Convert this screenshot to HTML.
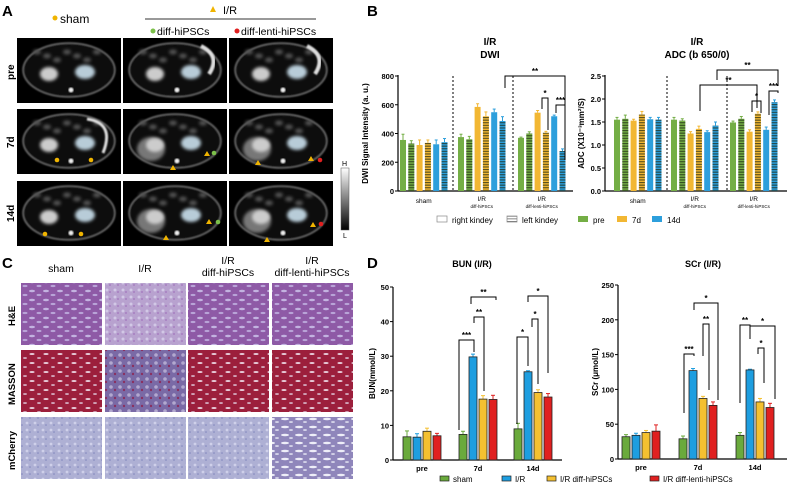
<!DOCTYPE html>
<html><head><meta charset="utf-8"><style>
body{margin:0;background:#fff;width:790px;height:490px;overflow:hidden;font-family:"Liberation Sans",sans-serif}
svg{position:absolute;left:0;top:0}
</style></head><body>
<svg id="fig" width="790" height="490" viewBox="0 0 790 490" xmlns="http://www.w3.org/2000/svg" font-family="Liberation Sans, sans-serif">
<defs>
<filter id="bl" x="-50%" y="-50%" width="200%" height="200%"><feGaussianBlur stdDeviation="1.6"/></filter>
<filter id="bl2"><feGaussianBlur stdDeviation="0.8"/></filter>
<pattern id="stripe" width="4" height="2.6" patternUnits="userSpaceOnUse"><rect width="4" height="1.1" fill="rgba(30,40,20,0.75)"/></pattern>
<pattern id="stripeLeg" width="4" height="2.6" patternUnits="userSpaceOnUse"><rect width="4" height="0.9" fill="#777"/></pattern>
<pattern id="he" width="14" height="9" patternUnits="userSpaceOnUse"><rect width="14" height="9" fill="#8e5aa6"/><ellipse cx="4" cy="3" rx="3" ry="1.3" fill="#c3b3e0"/><ellipse cx="11" cy="7" rx="2.5" ry="1.1" fill="#b9a4d8"/></pattern>
<pattern id="heIR" width="8" height="7" patternUnits="userSpaceOnUse"><rect width="8" height="7" fill="#b8a2cf"/><circle cx="3" cy="3" r="1.5" fill="#d2c8e6"/><circle cx="6" cy="5" r="1" fill="#a77fc0"/></pattern>
<pattern id="ms" width="14" height="9" patternUnits="userSpaceOnUse"><rect width="14" height="9" fill="#9c1f3c"/><ellipse cx="4" cy="3" rx="2.6" ry="1" fill="#e6c9d6"/><ellipse cx="11" cy="7" rx="2" ry="0.9" fill="#d8b5c8"/></pattern>
<pattern id="msIR" width="9" height="8" patternUnits="userSpaceOnUse"><rect width="9" height="8" fill="#7a6aa6"/><circle cx="3" cy="3" r="1.8" fill="#b2a8cf"/><circle cx="7" cy="6" r="1.2" fill="#8a3060"/></pattern>
<pattern id="mc" width="8" height="7" patternUnits="userSpaceOnUse"><rect width="8" height="7" fill="#aeb0d4"/><circle cx="3" cy="3" r="1.4" fill="#cfd0ea"/><circle cx="6" cy="5" r="0.8" fill="#8186bd"/></pattern>
<pattern id="mcL" width="14" height="8" patternUnits="userSpaceOnUse"><rect width="14" height="8" fill="#8f86bb"/><ellipse cx="5" cy="3" rx="4" ry="1.2" fill="#eeeef8"/><ellipse cx="11" cy="6" rx="2" ry="0.9" fill="#dcdcee"/></pattern>
<linearGradient id="cbar" x1="0" y1="0" x2="0" y2="1"><stop offset="0" stop-color="#fff"/><stop offset="1" stop-color="#000"/></linearGradient>
</defs>

<!-- Panel A -->
<text x="2" y="16" font-size="15" font-weight="bold">A</text>
<circle cx="55" cy="18" r="2.5" fill="#f0b400"/>
<text x="60" y="23" font-size="12">sham</text>
<polygon points="213,6 216,12 210,12" fill="#f0b400"/>
<text x="223" y="14" font-size="11">I/R</text>
<line x1="145" y1="19" x2="316" y2="19" stroke="#333" stroke-width="1"/>
<circle cx="153" cy="31" r="2.5" fill="#7cc04a"/>
<text x="157" y="35" font-size="10.5">diff-hiPSCs</text>
<circle cx="237" cy="31" r="2.5" fill="#e02020"/>
<text x="241" y="35" font-size="10.5">diff-lenti-hiPSCs</text>
<g id="mri"></g>
<text transform="translate(14,80) rotate(-90)" font-size="10" font-weight="bold">pre</text>
<text transform="translate(14,148) rotate(-90)" font-size="10" font-weight="bold">7d</text>
<text transform="translate(14,222) rotate(-90)" font-size="10" font-weight="bold">14d</text>
<rect x="341" y="168" width="8" height="62" fill="url(#cbar)" stroke="#555" stroke-width="0.5"/>
<text x="342" y="166" font-size="7">H</text>
<text x="343" y="238" font-size="7">L</text>

<!-- Panel C -->
<text x="2" y="268" font-size="15" font-weight="bold">C</text>
<text x="61" y="272" font-size="10.5" text-anchor="middle">sham</text>
<text x="145" y="272" font-size="10.5" text-anchor="middle">I/R</text>
<text x="228" y="264" font-size="10.5" text-anchor="middle">I/R</text>
<text x="228" y="276" font-size="10.5" text-anchor="middle">diff-hiPSCs</text>
<text x="312" y="264" font-size="10.5" text-anchor="middle">I/R</text>
<text x="312" y="276" font-size="10.5" text-anchor="middle">diff-lenti-hiPSCs</text>
<g id="histo"></g>
<text transform="translate(15,326) rotate(-90)" font-size="9.5" font-weight="bold">H&amp;E</text>
<text transform="translate(15,405) rotate(-90)" font-size="9.5" font-weight="bold">MASSON</text>
<text transform="translate(15,470) rotate(-90)" font-size="9.5" font-weight="bold">mCherry</text>

<!-- Panel B -->
<text x="367" y="16" font-size="15" font-weight="bold">B</text>
<g id="chartB"></g>
<!-- Panel D -->
<text x="367" y="268" font-size="15" font-weight="bold">D</text>
<g id="chartD"></g>
</svg>
<script>
// ===== Panel B data =====
const bGroups = ["sham","I/R|diff-hiPSCs","I/R|diff-lenti-hiPSCs"];
const dwiValues = [[355,330,320,335,325,340],[375,360,585,520,548,487],[370,400,545,405,520,278]];
const dwiErr = [[40,20,35,20,30,25],[20,20,22,30,22,30],[5,12,15,10,8,15]];
const adcValues = [[1.55,1.57,1.53,1.66,1.56,1.55],[1.55,1.53,1.25,1.35,1.28,1.42],[1.49,1.57,1.29,1.68,1.33,1.93]];
const adcErr = [[0.05,0.08,0.03,0.07,0.04,0.05],[0.05,0.04,0.04,0.06,0.03,0.08],[0.03,0.05,0.04,0.04,0.06,0.05]];
const dwiTicks = [0,200,400,600,800];
const adcTicks = ["0.0","0.5","1.0","1.5","2.0","2.5"];
// ===== Panel D data =====
const dCats = ["pre","7d","14d"];
const dSeries = ["sham","I/R","I/R diff-hiPSCs","I/R diff-lenti-hiPSCs"];
const bunValues = [[6.7,6.6,8.3,7.0],[7.4,29.8,17.6,17.5],[9.0,25.5,19.5,18.2]];
const bunErr = [[1.7,1.0,0.9,0.7],[0.9,0.8,1.0,1.2],[1.6,0.3,0.8,1.0]];
const scrValues = [[32,34,38,40],[29,127,87,77],[34,128,82,74]];
const scrErr = [[3,3,3,9],[4,3,3,5],[4,1,5,6]];
const bunTicks = [0,10,20,30,40,50];
const scrTicks = [0,50,100,150,200,250];

const NS="http://www.w3.org/2000/svg";
function mk(parent,tag,attrs,txt){const e=document.createElementNS(NS,tag);for(const k in attrs)e.setAttribute(k,attrs[k]);if(txt!==undefined)e.textContent=txt;parent.appendChild(e);return e;}

// ---- MRI tiles ----
(function(){
  const g=document.getElementById('mri');
  const xs=[17,123,229], ys=[38,109,181], w=104,h=65;
  for(let r=0;r<3;r++)for(let c=0;c<3;c++){
    const x=xs[c],y=ys[r];
    const t=mk(g,'g',{});
    
    
    mk(t,'rect',{x:x,y:y,width:w,height:h,fill:'#000'});
    mk(t,'ellipse',{cx:x+52,cy:y+32,rx:46,ry:27,fill:'#0c0c0c',stroke:'#6a6a6a','stroke-width':1.5,filter:'url(#bl2)'});
    for(let i=0;i<7;i++)mk(t,'ellipse',{cx:x+20+i*10,cy:y+14+(i%3)*4,rx:4,ry:2.5,fill:'#555',filter:'url(#bl)'});
    if(c>0&&r>0){mk(t,'ellipse',{cx:x+28,cy:y+40,rx:14,ry:12,fill:'#777',filter:'url(#bl)'});}
    mk(t,'ellipse',{cx:x+32,cy:y+36,rx:9,ry:7,fill:'#ccc',filter:'url(#bl)'});
    mk(t,'ellipse',{cx:x+68,cy:y+34,rx:10,ry:7,fill:'#b8ccd8',filter:'url(#bl)'});
    mk(t,'circle',{cx:x+54,cy:y+52,r:2.5,fill:'#eee',filter:'url(#bl2)'});
    if(r==1&&c==0){mk(t,'path',{d:`M${x+70},${y+10} Q${x+98},${y+14} ${x+86},${y+44}`,fill:'none',stroke:'#ddd','stroke-width':3,filter:'url(#bl2)'});}
    if(r==0&&c>0){mk(t,'path',{d:`M${x+78},${y+8} Q${x+98},${y+18} ${x+86},${y+36}`,fill:'none',stroke:'#ddd','stroke-width':4,filter:'url(#bl2)'});}
  }
  function dot(x,y,col){mk(g,'circle',{cx:x,cy:y,r:2.3,fill:col});}
  function tri(x,y){mk(g,'polygon',{points:`${x},${y-3} ${x+3},${y+2} ${x-3},${y+2}`,fill:'#f0b400'});}
  dot(57,160,'#f0b400');dot(91,160,'#f0b400');dot(45,234,'#f0b400');dot(81,234,'#f0b400');
  tri(173,168);tri(207,154);dot(214,153,'#7cc04a');tri(258,163);tri(311,159);dot(320,160,'#e02020');
  tri(166,238);tri(209,222);dot(218,222,'#7cc04a');tri(267,240);tri(313,225);dot(321,224,'#e02020');
})();

// ---- Histology tiles ----
(function(){
  const g=document.getElementById('histo');
  const xs=[21,105,188,272], ys=[283,350,417], w=81,h=62;
  const fills=[["url(#he)","url(#heIR)","url(#he)","url(#he)"],["url(#ms)","url(#msIR)","url(#ms)","url(#ms)"],["url(#mc)","url(#mc)","url(#mc)","url(#mcL)"]];
  for(let r=0;r<3;r++)for(let c=0;c<4;c++){
    const t=mk(g,'rect',{x:xs[c],y:ys[r],width:w,height:h,fill:fills[r][c]});
    
    
  }
})();

// ---- Panel B charts ----
const bColors=["#74ae45","#74ae45","#f2b733","#f2b733","#2d9fdc","#2d9fdc"];
function drawB(g,opt){
  const y=v=>opt.y0-(v/opt.max)*(opt.y0-opt.y1);
  mk(g,'text',{x:opt.tx,y:45,'font-size':10,'font-weight':'bold','text-anchor':'middle'},'I/R');
  mk(g,'text',{x:opt.tx,y:58,'font-size':10,'font-weight':'bold','text-anchor':'middle'},opt.title);
  mk(g,'line',{x1:opt.x0,y1:opt.y1-1,x2:opt.x0,y2:opt.y0,stroke:'#000','stroke-width':1.2});
  mk(g,'line',{x1:opt.x0,y1:opt.y0,x2:opt.x2,y2:opt.y0,stroke:'#000','stroke-width':1.2});
  opt.ticks.forEach(t=>{const v=parseFloat(t);const yy=y(v);
    mk(g,'line',{x1:opt.x0-3,y1:yy,x2:opt.x0,y2:yy,stroke:'#000'});
    const lb=mk(g,'text',{x:opt.x0-4,y:yy+3,'font-size':7.5,'font-weight':'bold','text-anchor':'end'},String(t));
    
    });
  const yl=mk(g,'text',{transform:`translate(${opt.ylx},${(opt.y0+opt.y1)/2}) rotate(-90)`,'font-size':8,'font-weight':'bold','text-anchor':'middle'},opt.ylabel);
  
  
  opt.dashes.forEach(dx=>mk(g,'line',{x1:dx,y1:opt.y1,x2:dx,y2:opt.y0,stroke:'#000','stroke-dasharray':'2,2'}));
  opt.vals.forEach((grp,gi)=>{
    grp.forEach((v,i)=>{
      const cx=opt.gStart[gi]+i*8.3, bw=6, top=y(v);
      const b=mk(g,'rect',{x:cx-bw/2,y:top,width:bw,height:opt.y0-top,fill:bColors[i]});
      
      
      if(i%2==1)mk(g,'rect',{x:cx-bw/2,y:top,width:bw,height:opt.y0-top,fill:'url(#stripe)'});
      const e=opt.err[gi][i];
      mk(g,'line',{x1:cx,y1:top,x2:cx,y2:y(v+e),stroke:bColors[i],'stroke-width':1});
      mk(g,'line',{x1:cx-1.5,y1:y(v+e),x2:cx+1.5,y2:y(v+e),stroke:bColors[i],'stroke-width':1});
    });
    const gc=opt.gStart[gi]+2.5*8.3;
    const parts=bGroups[gi].split('|');
    if(parts.length==1)mk(g,'text',{x:gc,y:opt.y0+12,'font-size':6.5,'text-anchor':'middle'},parts[0]);
    else{mk(g,'text',{x:gc,y:opt.y0+10,'font-size':6.5,'text-anchor':'middle'},parts[0]);
      mk(g,'text',{x:gc,y:opt.y0+17,'font-size':4.5,'text-anchor':'middle'},parts[1]);}
  });
}
function bracket(g,x1,x2,ytop,yl,yr,label){
  mk(g,'polyline',{points:`${x1},${yl} ${x1},${ytop} ${x2},${ytop} ${x2},${yr}`,fill:'none',stroke:'#000','stroke-width':1});
  mk(g,'text',{x:(x1+x2)/2,y:ytop-2,'font-size':8,'font-weight':'bold','text-anchor':'middle'},label);
}
(function(){
  const g=document.getElementById('chartB');
  drawB(g,{x0:398,x2:573,y0:191,y1:76,max:800,ticks:dwiTicks,vals:dwiValues,err:dwiErr,gStart:[403,461,521],dashes:[453,513],tx:490,title:'DWI',ylabel:'DWI Signal Intensity (a. u.)',ylx:368});
  drawB(g,{x0:605,x2:787,y0:191,y1:76,max:2.5,ticks:adcTicks,vals:adcValues,err:adcErr,gStart:[617,674,733],dashes:[667,727],tx:697,title:'ADC (b 650/0)',ylabel:'ADC (X10⁻³mm²/S)',ylx:584});
  bracket(g,505,565,76,88,158,'**');
  bracket(g,542,548,98,109,130,'*');
  bracket(g,556,565,105,113,160,'***');
  bracket(g,717,778,70,80,86,'**');
  bracket(g,700,757,85,111,108,'**');
  bracket(g,752,761,101,112,113,'*');
  bracket(g,769,778,91,115,93,'***');
  const L=mk(g,'g',{});
  
  
  mk(L,'rect',{x:437,y:216,width:10,height:6,fill:'#fff',stroke:'#888','stroke-width':0.7});
  mk(L,'text',{x:452,y:223,'font-size':8},'right kindey');
  mk(L,'rect',{x:507,y:216,width:10,height:6,fill:'url(#stripeLeg)',stroke:'#888','stroke-width':0.7});
  mk(L,'text',{x:522,y:223,'font-size':8},'left kindey');
  mk(L,'rect',{x:578,y:216,width:10,height:6,fill:bColors[0]});
  mk(L,'text',{x:593,y:223,'font-size':8},'pre');
  mk(L,'rect',{x:617,y:216,width:10,height:6,fill:bColors[2]});
  mk(L,'text',{x:632,y:223,'font-size':8},'7d');
  mk(L,'rect',{x:652,y:216,width:10,height:6,fill:bColors[4]});
  mk(L,'text',{x:667,y:223,'font-size':8},'14d');
})();

// ---- Panel D charts ----
const dColors=["#6aaa3c","#1e9ee0","#f4c030","#e02020"];
function drawD(g,opt){
  const y=v=>opt.y0-(v/opt.max)*(opt.y0-opt.y1);
  mk(g,'text',{x:opt.tx,y:267,'font-size':9,'font-weight':'bold','text-anchor':'middle'},opt.title);
  mk(g,'line',{x1:opt.x0,y1:opt.y1,x2:opt.x0,y2:opt.y0,stroke:'#000','stroke-width':1.2});
  mk(g,'line',{x1:opt.x0,y1:opt.y0,x2:opt.x2,y2:opt.y0,stroke:'#000','stroke-width':1.2});
  opt.ticks.forEach(t=>{const yy=y(t);
    mk(g,'line',{x1:opt.x0-3,y1:yy,x2:opt.x0,y2:yy,stroke:'#000'});
    const lb=mk(g,'text',{x:opt.x0-4,y:yy+3,'font-size':7.5,'font-weight':'bold','text-anchor':'end'},String(t));
    
    });
  const yl=mk(g,'text',{transform:`translate(${opt.ylx},${(opt.y0+opt.y1)/2}) rotate(-90)`,'font-size':8,'font-weight':'bold','text-anchor':'middle'},opt.ylabel);
  
  
  opt.vals.forEach((grp,gi)=>{
    const gc=opt.gc[gi];
    grp.forEach((v,i)=>{
      const cx=gc+(i-1.5)*10, bw=8, top=y(v);
      const e=opt.err[gi][i];
      mk(g,'line',{x1:cx,y1:top,x2:cx,y2:y(v+e),stroke:dColors[i],'stroke-width':1});
      mk(g,'line',{x1:cx-2,y1:y(v+e),x2:cx+2,y2:y(v+e),stroke:dColors[i],'stroke-width':1});
      const b=mk(g,'rect',{x:cx-bw/2,y:top,width:bw,height:opt.y0-top,fill:dColors[i],stroke:'#222','stroke-width':0.8});
      
      
    });
    mk(g,'text',{x:gc,y:opt.y0+11,'font-size':7.5,'font-weight':'bold','text-anchor':'middle'},dCats[gi]);
  });
}
(function(){
  const g=document.getElementById('chartD');
  drawD(g,{x0:393,x2:562,y0:460,y1:287,max:50,ticks:bunTicks,vals:bunValues,err:bunErr,gc:[422,478,533],tx:472,title:'BUN (I/R)',ylabel:'BUN(mmol/L)',ylx:375});
  drawD(g,{x0:618,x2:787,y0:459,y1:285,max:250,ticks:scrTicks,vals:scrValues,err:scrErr,gc:[641,698,755],tx:703,title:'SCr (I/R)',ylabel:'SCr (μmol/L)',ylx:598});
  bracket(g,459,474,340,430,352,'***');
  bracket(g,474,484,317,323,391,'**');
  bracket(g,471,496,297,304,300,'**');
  bracket(g,517,528,337,424,366,'*');
  bracket(g,532,538,319,327,384,'*');
  bracket(g,528,548,296,302,373,'*');
  bracket(g,684,694,354,413,356,'***');
  bracket(g,703,709,324,356,390,'**');
  bracket(g,694,718,303,310,400,'*');
  bracket(g,740,750,325,403,339,'**');
  bracket(g,750,775,326,339,399,'*');
  bracket(g,758,764,348,354,383,'*');
  const L=mk(g,'g',{});
  
  
  const lx=[440,502,547,650];
  dSeries.forEach((s,i)=>{
    mk(L,'rect',{x:lx[i],y:476,width:9,height:5,fill:dColors[i],stroke:'#222','stroke-width':0.7});
    mk(L,'text',{x:lx[i]+13,y:482,'font-size':8},s);
  });
})();
</script>
</body></html>
